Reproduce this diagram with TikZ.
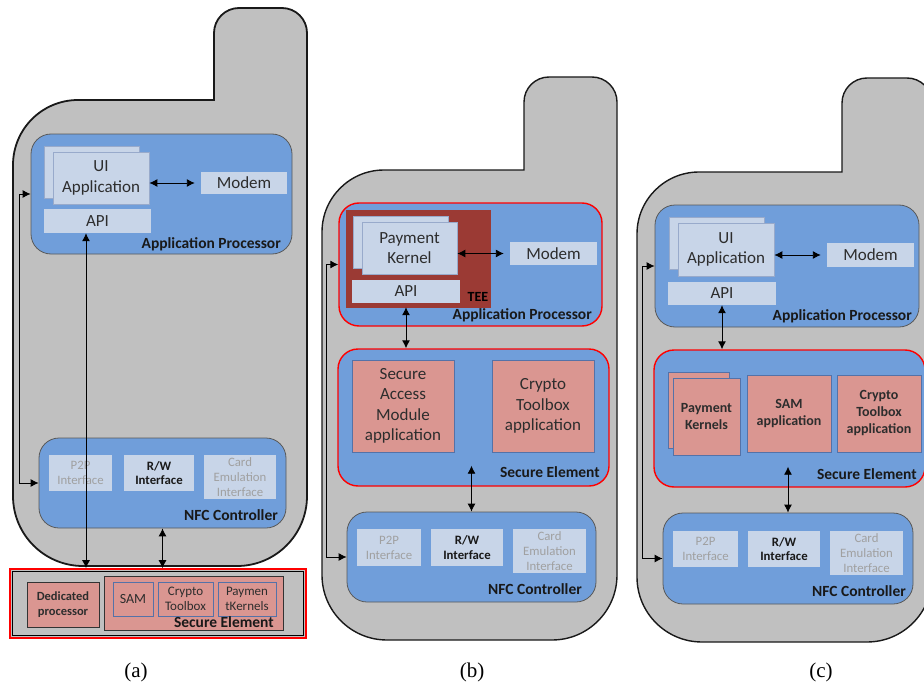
\documentclass[tikz,border=0pt]{standalone}
\usepackage{fontspec}
\setmainfont{Carlito}
\newfontfamily\capfont{Liberation Serif}
\usetikzlibrary{arrows.meta,fit,calc}
\definecolor{bodygray}{RGB}{192,192,192}
\definecolor{procblue}{RGB}{112,158,218}
\definecolor{lightbox}{RGB}{200,213,232}
\definecolor{salmon}{RGB}{218,150,145}
\definecolor{teered}{RGB}{155,58,52}
\definecolor{edgeblue}{RGB}{84,114,168}
\definecolor{dimtext}{RGB}{160,160,160}
\definecolor{inktext}{RGB}{45,45,45}
\tikzset{
  phone/.style={fill=bodygray, draw=black!90, line width=1.4pt},
  proc/.style={fill=procblue, draw=black!65, line width=0.8pt, rounded corners=20pt, inner sep=0pt},
  procred/.style={proc, draw=red, line width=1.4pt},
  lbox/.style={fill=lightbox, inner sep=0pt},
  lboxe/.style={lbox, draw=edgeblue!60, line width=0.8pt},
  appbox/.style={fill=salmon, draw=edgeblue, line width=0.8pt, inner sep=0pt},
  txt/.style={inner sep=0pt, align=center, text=inktext},
  bigtxt/.style={txt, font=\fontsize{17}{20.5}\selectfont},
  iftxt/.style={txt, text=dimtext, font=\fontsize{12.8}{14.8}\selectfont},
  iftxton/.style={txt, text=black!90, font=\bfseries\fontsize{12.8}{14.8}\selectfont},
  boldtxt/.style={txt, font=\bfseries\fontsize{14}{17}\selectfont},
  smalltxt/.style={txt, font=\fontsize{13}{15}\selectfont},
  tag/.style={font=\bfseries\fontsize{15.5}{18}\selectfont, text=black!90, anchor=base east, inner sep=0pt},
  link/.style={line width=0.9pt, {Latex[length=8pt,width=8pt]}-{Latex[length=8pt,width=8pt]}},
  caption/.style={font=\capfont\fontsize{21}{24}\selectfont}
}
% L R A T B Bo rt ra rb
\newcommand\phoneshape[9]{%
  \draw[phone] (#1,#6-#9) -- (#1,#5+#7) arc[start angle=180,end angle=90,radius=#7pt]
   -- (#3,#5) -- (#3,#4+#8) arc[start angle=180,end angle=90,radius=#8pt]
   -- (#2-#8,#4) arc[start angle=90,end angle=0,radius=#8pt]
   -- (#2,#6-#9) arc[start angle=0,end angle=-90,radius=#9pt]
   -- (#1+#9,#6) arc[start angle=-90,end angle=-180,radius=#9pt] -- cycle;}
\begin{document}
\begin{tikzpicture}[x=1pt,y=-1pt]
\fill[white] (0,0) rectangle (924,685);
\useasboundingbox (0,0) rectangle (924,685);

% ---------------- (a) ----------------
\begin{scope}[phone/.append style={line width=1.8pt}]
\phoneshape{13}{307}{214}{8}{100}{566}{65}{25}{70}
\end{scope}
\node[proc, fit={(31,134)(292,254)}] (apA) {};
\node[lboxe, fit={(44,146)(139,198)}] (uiAback) {};
\node[lboxe, fit={(53,152)(149,204)}] (uiA) {};
\node[bigtxt] (uiAt) at (uiA) {UI\\Application};
\node[lbox, fit={(201,172)(287,194)}] (modemA) {};
\node[bigtxt] (modemAt) at (modemA) {Modem};
\node[lbox, fit={(44,209)(151,233)}] (apiA) {};
\node[bigtxt] (apiAt) at (apiA) {API};
\node[tag] (apAlbl) at (281,248) {Application Processor};

\node[proc, fit={(39,438)(286,528)}] (nfcA) {};
\node[lbox, fit={(49,455)(112,491)}] (p2pA) {};
\node[iftxt] (p2pAt) at (p2pA) {P2P\\Interface};
\node[lbox, fit={(124,455)(194,491)}] (rwA) {};
\node[iftxton] (rwAt) at (rwA) {R/W\\Interface};
\node[lbox, fit={(204,455)(276,499)}] (ceA) {};
\node[iftxt] (ceAt) at (ceA) {Card\\Emulation\\Interface};
\node[tag] (nfcAlbl) at (278,520) {NFC Controller};

\node[fill=bodygray, draw=red, line width=1.6pt, inner sep=0pt, fit={(10,569)(306,638)}] (baseA) {};
\node[draw=black, line width=1.2pt, inner sep=0pt, fit={(12.5,571.5)(303.5,635.5)}] (baseInA) {};
\node[appbox, draw=black!80, fit={(27,582)(99,627)}] (dpA) {};
\node[txt, font=\bfseries\fontsize{12.5}{15}\selectfont] (dpAt) at (dpA) {Dedicated\\processor};
\node[appbox, draw=black!80, fit={(104,576)(283,630)}] (seA) {};
\node[appbox, fit={(113,582)(153,616)}] (samA) {};
\node[txt, font=\fontsize{14}{16}\selectfont] (samAt) at (samA) {SAM};
\node[appbox, fit={(158,582)(213,616)}] (ctA) {};
\node[smalltxt] (ctAt) at (ctA) {Crypto\\Toolbox};
\node[appbox, fit={(218,582)(276,616)}] (pkA) {};
\node[smalltxt] (pkAt) at (pkA) {Paymen\\tKernels};
\node[tag] (seAlbl) at (274,627) {Secure Element};

\draw[link, shorten >=6pt] (uiA.east |- modemA.west) -- (modemA.west);
\draw[link] (apA.west) -- ++(-11,0) |- (nfcA.west);
\draw[link] ([xshift=-11.5pt]apiA.south) -- ([xshift=-11.5pt]apiA.south |- baseA.north);
\draw[link] (nfcA.south) -- (nfcA.south |- baseA.north);
\node[caption] (capA) at (136,672) {(a)};

% ---------------- (b) ----------------
\phoneshape{322}{617}{524}{77}{170}{640}{62}{25}{65}
\node[procred, fit={(339,203)(602,326)}] (apB) {};
\node[fill=teered, inner sep=0pt, fit={(346,210)(491,308)}] (teeB) {};
\node[lboxe, fit={(353,216)(448,268)}] (pkBback) {};
\node[lboxe, fit={(362,222)(457,274)}] (pkB) {};
\node[bigtxt] (pkBt) at (pkB) {Payment\\Kernel};
\node[lbox, fit={(352,280)(460,303)}] (apiB) {};
\node[bigtxt] (apiBt) at (apiB) {API};
\node[font=\bfseries\fontsize{14}{16}\selectfont, anchor=base, inner sep=0pt, text=black] (teeBlbl) at (478,301) {TEE};
\node[lbox, fit={(510,242)(597,265)}] (modemB) {};
\node[bigtxt] (modemBt) at (modemB) {Modem};
\node[tag] (apBlbl) at (592,319) {Application Processor};

\node[procred, fit={(338,349)(609,486)}] (seB) {};
\node[appbox, fit={(352,360)(454,452)}] (samB) {};
\node[bigtxt] (samBt) at (samB) {Secure\\Access\\Module\\application};
\node[appbox, fit={(492,360)(594,452)}] (ctB) {};
\node[bigtxt] (ctBt) at (ctB) {Crypto\\Toolbox\\application};
\node[tag] (seBlbl) at (600,477) {Secure Element};

\node[proc, fit={(347,512)(596,602)}] (nfcB) {};
\node[lbox, fit={(357,529)(421,566)}] (p2pB) {};
\node[iftxt] (p2pBt) at (p2pB) {P2P\\Interface};
\node[lbox, fit={(431,529)(503,566)}] (rwB) {};
\node[iftxton] (rwBt) at (rwB) {R/W\\Interface};
\node[lbox, fit={(513,529)(586,573)}] (ceB) {};
\node[iftxt] (ceBt) at (ceB) {Card\\Emulation\\Interface};
\node[tag] (nfcBlbl) at (582,594) {NFC Controller};

\draw[link, shorten >=6pt] (pkB.east |- modemB.west) -- (modemB.west);
\draw[link] (apB.west) -- ++(-12,0) |- (nfcB.west);
\draw[link, shorten <=4pt] (apiB.south) -- (apiB.south |- seB.north);
\draw[link] ([yshift=21pt]nfcB.north |- seB.south) -- (nfcB.north);
\node[caption] (capB) at (472,672) {(b)};

% ---------------- (c) ----------------
\phoneshape{637}{932}{842}{78}{172}{642}{62}{25}{65}
\node[proc, fit={(655,205)(919,327)}] (apC) {};
\node[lboxe, fit={(669,217)(764,269)}] (uiCback) {};
\node[lboxe, fit={(678,223)(774,276)}] (uiC) {};
\node[bigtxt] (uiCt) at (uiC) {UI\\Application};
\node[lbox, fit={(827,243)(914,267)}] (modemC) {};
\node[bigtxt] (modemCt) at (modemC) {Modem};
\node[lbox, fit={(668,282)(776,305)}] (apiC) {};
\node[bigtxt] (apiCt) at (apiC) {API};
\node[tag] (apClbl) at (912,320) {Application Processor};

\node[procred, fit={(654,350)(925,487)}] (seC) {};
\node[appbox, fit={(668,372)(729,448)}] (pkCback) {};
\node[appbox, fit={(673,378)(740,455)}] (pkC) {};
\node[boldtxt] (pkCt) at (pkC) {Payment\\Kernels};
\node[appbox, fit={(747,375)(831,452)}] (samC) {};
\node[boldtxt] (samCt) at (samC) {SAM\\application};
\node[appbox, fit={(837,375)(921,452)}] (ctC) {};
\node[boldtxt] (ctCt) at (ctC) {Crypto\\Toolbox\\application};
\node[tag] (seClbl) at (917,479) {Secure Element};

\node[proc, fit={(663,513)(913,604)}] (nfcC) {};
\node[lbox, fit={(673,531)(738,567)}] (p2pC) {};
\node[iftxt] (p2pCt) at (p2pC) {P2P\\Interface};
\node[lbox, fit={(748,531)(820,567)}] (rwC) {};
\node[iftxton] (rwCt) at (rwC) {R/W\\Interface};
\node[lbox, fit={(830,531)(903,575)}] (ceC) {};
\node[iftxt] (ceCt) at (ceC) {Card\\Emulation\\Interface};
\node[tag] (nfcClbl) at (906,596) {NFC Controller};

\draw[link, shorten >=6pt] (uiC.east |- modemC.west) -- (modemC.west);
\draw[link] (apC.west) -- ++(-12,0) |- (nfcC.west);
\draw[link] (apiC.south) -- (apiC.south |- seC.north);
\draw[link] ([yshift=21pt]nfcC.north |- seC.south) -- (nfcC.north);
\node[caption] (capC) at (821,672) {(c)};
\end{tikzpicture}
\end{document}
